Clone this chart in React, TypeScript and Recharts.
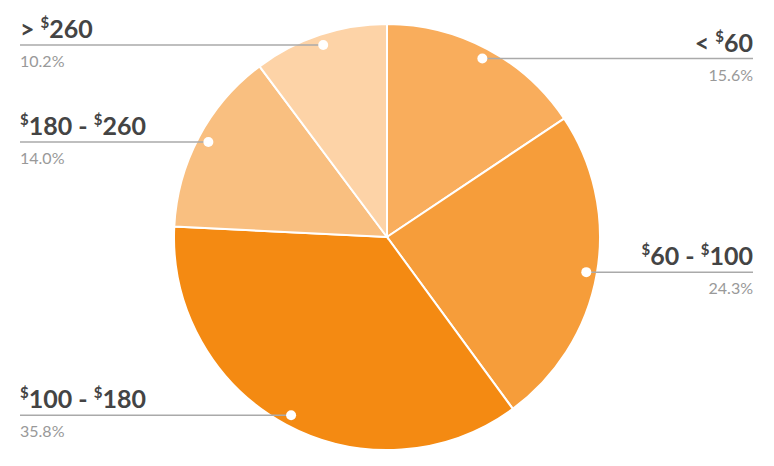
import { PieChart, Pie, Cell } from "recharts";

const categories = ["< $60", "$60 - $100", "$100 - $180", "$180 - $260", "> $260"];
const shares = [15.6, 24.3, 35.8, 14.0, 10.2];
const colors = ["#F9AD5C", "#F69D3A", "#F48A12", "#F9BF80", "#FDD3A7"];

const data = categories.map((name, i) => ({ name, value: shares[i] }));

const RADIAN = Math.PI / 180;
const FONT = "Lato, 'Open Sans', sans-serif";

// "$" is drawn as a small raised sign, like in the original
const renderName = (name: string) => {
  const parts = name.split("$");
  const out: JSX.Element[] = [];
  parts.forEach((p, i) => {
    if (i > 0) {
      out.push(
        <tspan key={`s${i}`} fontSize={15} dy={-10}>
          $
        </tspan>
      );
      out.push(
        <tspan key={`t${i}`} dy={10}>
          {p}
        </tspan>
      );
    } else if (p) {
      out.push(<tspan key={`t${i}`}>{p}</tspan>);
    }
  });
  return out;
};

const renderLabel = (props: any) => {
  const { cx, cy, midAngle, outerRadius, index } = props;
  const r = outerRadius * 0.95;
  const x = cx + r * Math.cos(-midAngle * RADIAN);
  const y = cy + r * Math.sin(-midAngle * RADIAN);
  const right = x > cx;
  const edge = right ? 753 : 20;
  const anchor = right ? "end" : "start";
  return (
    <g key={`lbl-${index}`}>
      <line x1={edge} y1={y} x2={x} y2={y} stroke="#aaaaaa" strokeWidth={1.5} />
      <circle cx={x} cy={y} r={5} fill="#ffffff" />
      <text
        x={edge}
        y={y - 7}
        textAnchor={anchor}
        fontFamily={FONT}
        fontWeight={700}
        fontSize={25}
        fill="#444444"
      >
        {renderName(categories[index])}
      </text>
      <text x={edge} y={y + 22} textAnchor={anchor} fontFamily={FONT} fontSize={16} fill="#999999">
        {shares[index].toFixed(1)}%
      </text>
    </g>
  );
};

export default function App() {
  return (
    <div style={{ position: "absolute", left: 0, top: 0, width: 774, height: 466, background: "#fff" }}>
      <PieChart width={774} height={466} margin={{ top: 0, right: 0, bottom: 0, left: 0 }}>
        <Pie
          data={data}
          dataKey="value"
          nameKey="name"
          cx={387}
          cy={237}
          outerRadius={213}
          startAngle={90}
          endAngle={-270}
          stroke="#ffffff"
          strokeWidth={2}
          label={renderLabel}
          labelLine={false}
          isAnimationActive={false}
        >
          {data.map((d, i) => (
            <Cell key={d.name} fill={colors[i]} />
          ))}
        </Pie>
      </PieChart>
    </div>
  );
}
